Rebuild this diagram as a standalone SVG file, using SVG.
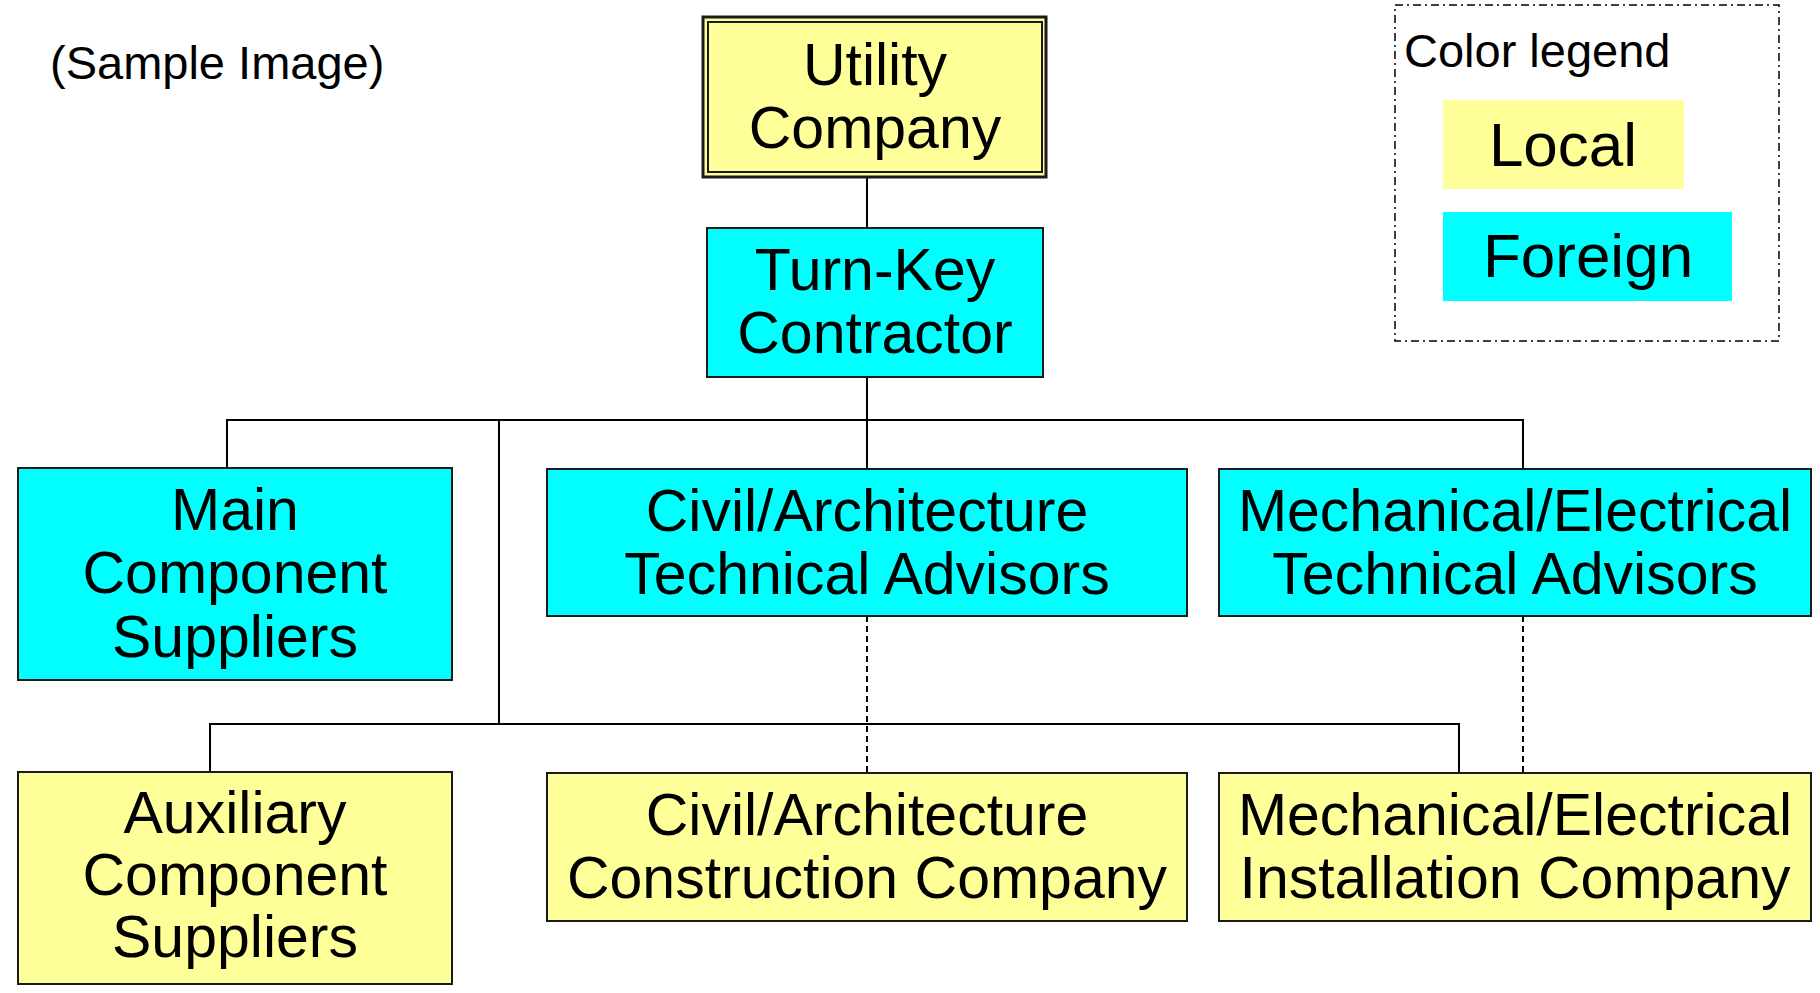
<svg xmlns="http://www.w3.org/2000/svg" width="1820" height="993" viewBox="0 0 1820 993">
  <style>
    text { font-family: "Liberation Sans", Arial, sans-serif; fill: #000; }
    .lbl { font-size: 59px; text-anchor: middle; }
    .local { fill: #FFFF99; stroke: #1a1a1a; stroke-width: 2; }
    .foreign { fill: #00FFFF; stroke: #1a1a1a; stroke-width: 2; }
    .wire { fill: none; stroke: #000; stroke-width: 2; }
    .dash { fill: none; stroke: #000; stroke-width: 2; stroke-dasharray: 6 4; }
  </style>

  <rect width="1820" height="993" fill="#fff"/>

  <text x="50" y="79" font-size="47">(Sample Image)</text>

  <!-- connectors -->
  <g id="connectors">
    <line class="wire" x1="867" y1="177" x2="867" y2="228"/>
    <line class="wire" x1="867" y1="377" x2="867" y2="469"/>
    <polyline class="wire" points="227,468 227,420 1523,420 1523,469"/>
    <polyline class="wire" points="499,420 499,724"/>
    <polyline class="wire" points="210,772 210,724 1459,724 1459,773"/>
    <line class="dash" x1="867" y1="616" x2="867" y2="773"/>
    <line class="dash" x1="1523" y1="616" x2="1523" y2="773"/>
  </g>

  <!-- top of hierarchy -->
  <g id="utility">
    <rect x="703" y="17" width="343" height="160" fill="#FFFF99" stroke="#1a1a1a" stroke-width="3"/>
    <rect x="708" y="22" width="334" height="150" fill="none" stroke="#1a1a1a" stroke-width="2"/>
    <text class="lbl" x="875" y="85">Utility</text>
    <text class="lbl" x="875" y="148">Company</text>
  </g>

  <g id="turnkey">
    <rect class="foreign" x="707" y="228" width="336" height="149"/>
    <text class="lbl" x="875" y="290">Turn-Key</text>
    <text class="lbl" x="875" y="353">Contractor</text>
  </g>

  <!-- foreign tier -->
  <g id="main-suppliers">
    <rect class="foreign" x="18" y="468" width="434" height="212"/>
    <text class="lbl" x="235" y="530">Main</text>
    <text class="lbl" x="235" y="593">Component</text>
    <text class="lbl" x="235" y="657">Suppliers</text>
  </g>

  <g id="civil-advisors">
    <rect class="foreign" x="547" y="469" width="640" height="147"/>
    <text class="lbl" x="867" y="531">Civil/Architecture</text>
    <text class="lbl" x="867" y="594">Technical Advisors</text>
  </g>

  <g id="mech-advisors">
    <rect class="foreign" x="1219" y="469" width="592" height="147"/>
    <text class="lbl" x="1515" y="531">Mechanical/Electrical</text>
    <text class="lbl" x="1515" y="594">Technical Advisors</text>
  </g>

  <!-- local tier -->
  <g id="aux-suppliers">
    <rect class="local" x="18" y="772" width="434" height="212"/>
    <text class="lbl" x="235" y="833">Auxiliary</text>
    <text class="lbl" x="235" y="895">Component</text>
    <text class="lbl" x="235" y="957">Suppliers</text>
  </g>

  <g id="civil-construction">
    <rect class="local" x="547" y="773" width="640" height="148"/>
    <text class="lbl" x="867" y="835">Civil/Architecture</text>
    <text class="lbl" x="867" y="898">Construction Company</text>
  </g>

  <g id="mech-installation">
    <rect class="local" x="1219" y="773" width="592" height="148"/>
    <text class="lbl" x="1515" y="835">Mechanical/Electrical</text>
    <text class="lbl" x="1515" y="898">Installation Company</text>
  </g>

  <!-- legend -->
  <g id="legend">
    <rect x="1395" y="5" width="384" height="336" fill="none" stroke="#000" stroke-width="1.5" stroke-dasharray="8 4 2 4"/>
    <text x="1404" y="67" font-size="47">Color legend</text>
    <rect x="1443" y="100" width="241" height="89" fill="#FFFF99"/>
    <text x="1563" y="166" font-size="62" text-anchor="middle">Local</text>
    <rect x="1443" y="212" width="289" height="89" fill="#00FFFF"/>
    <text x="1588" y="277" font-size="62" text-anchor="middle">Foreign</text>
  </g>
</svg>
